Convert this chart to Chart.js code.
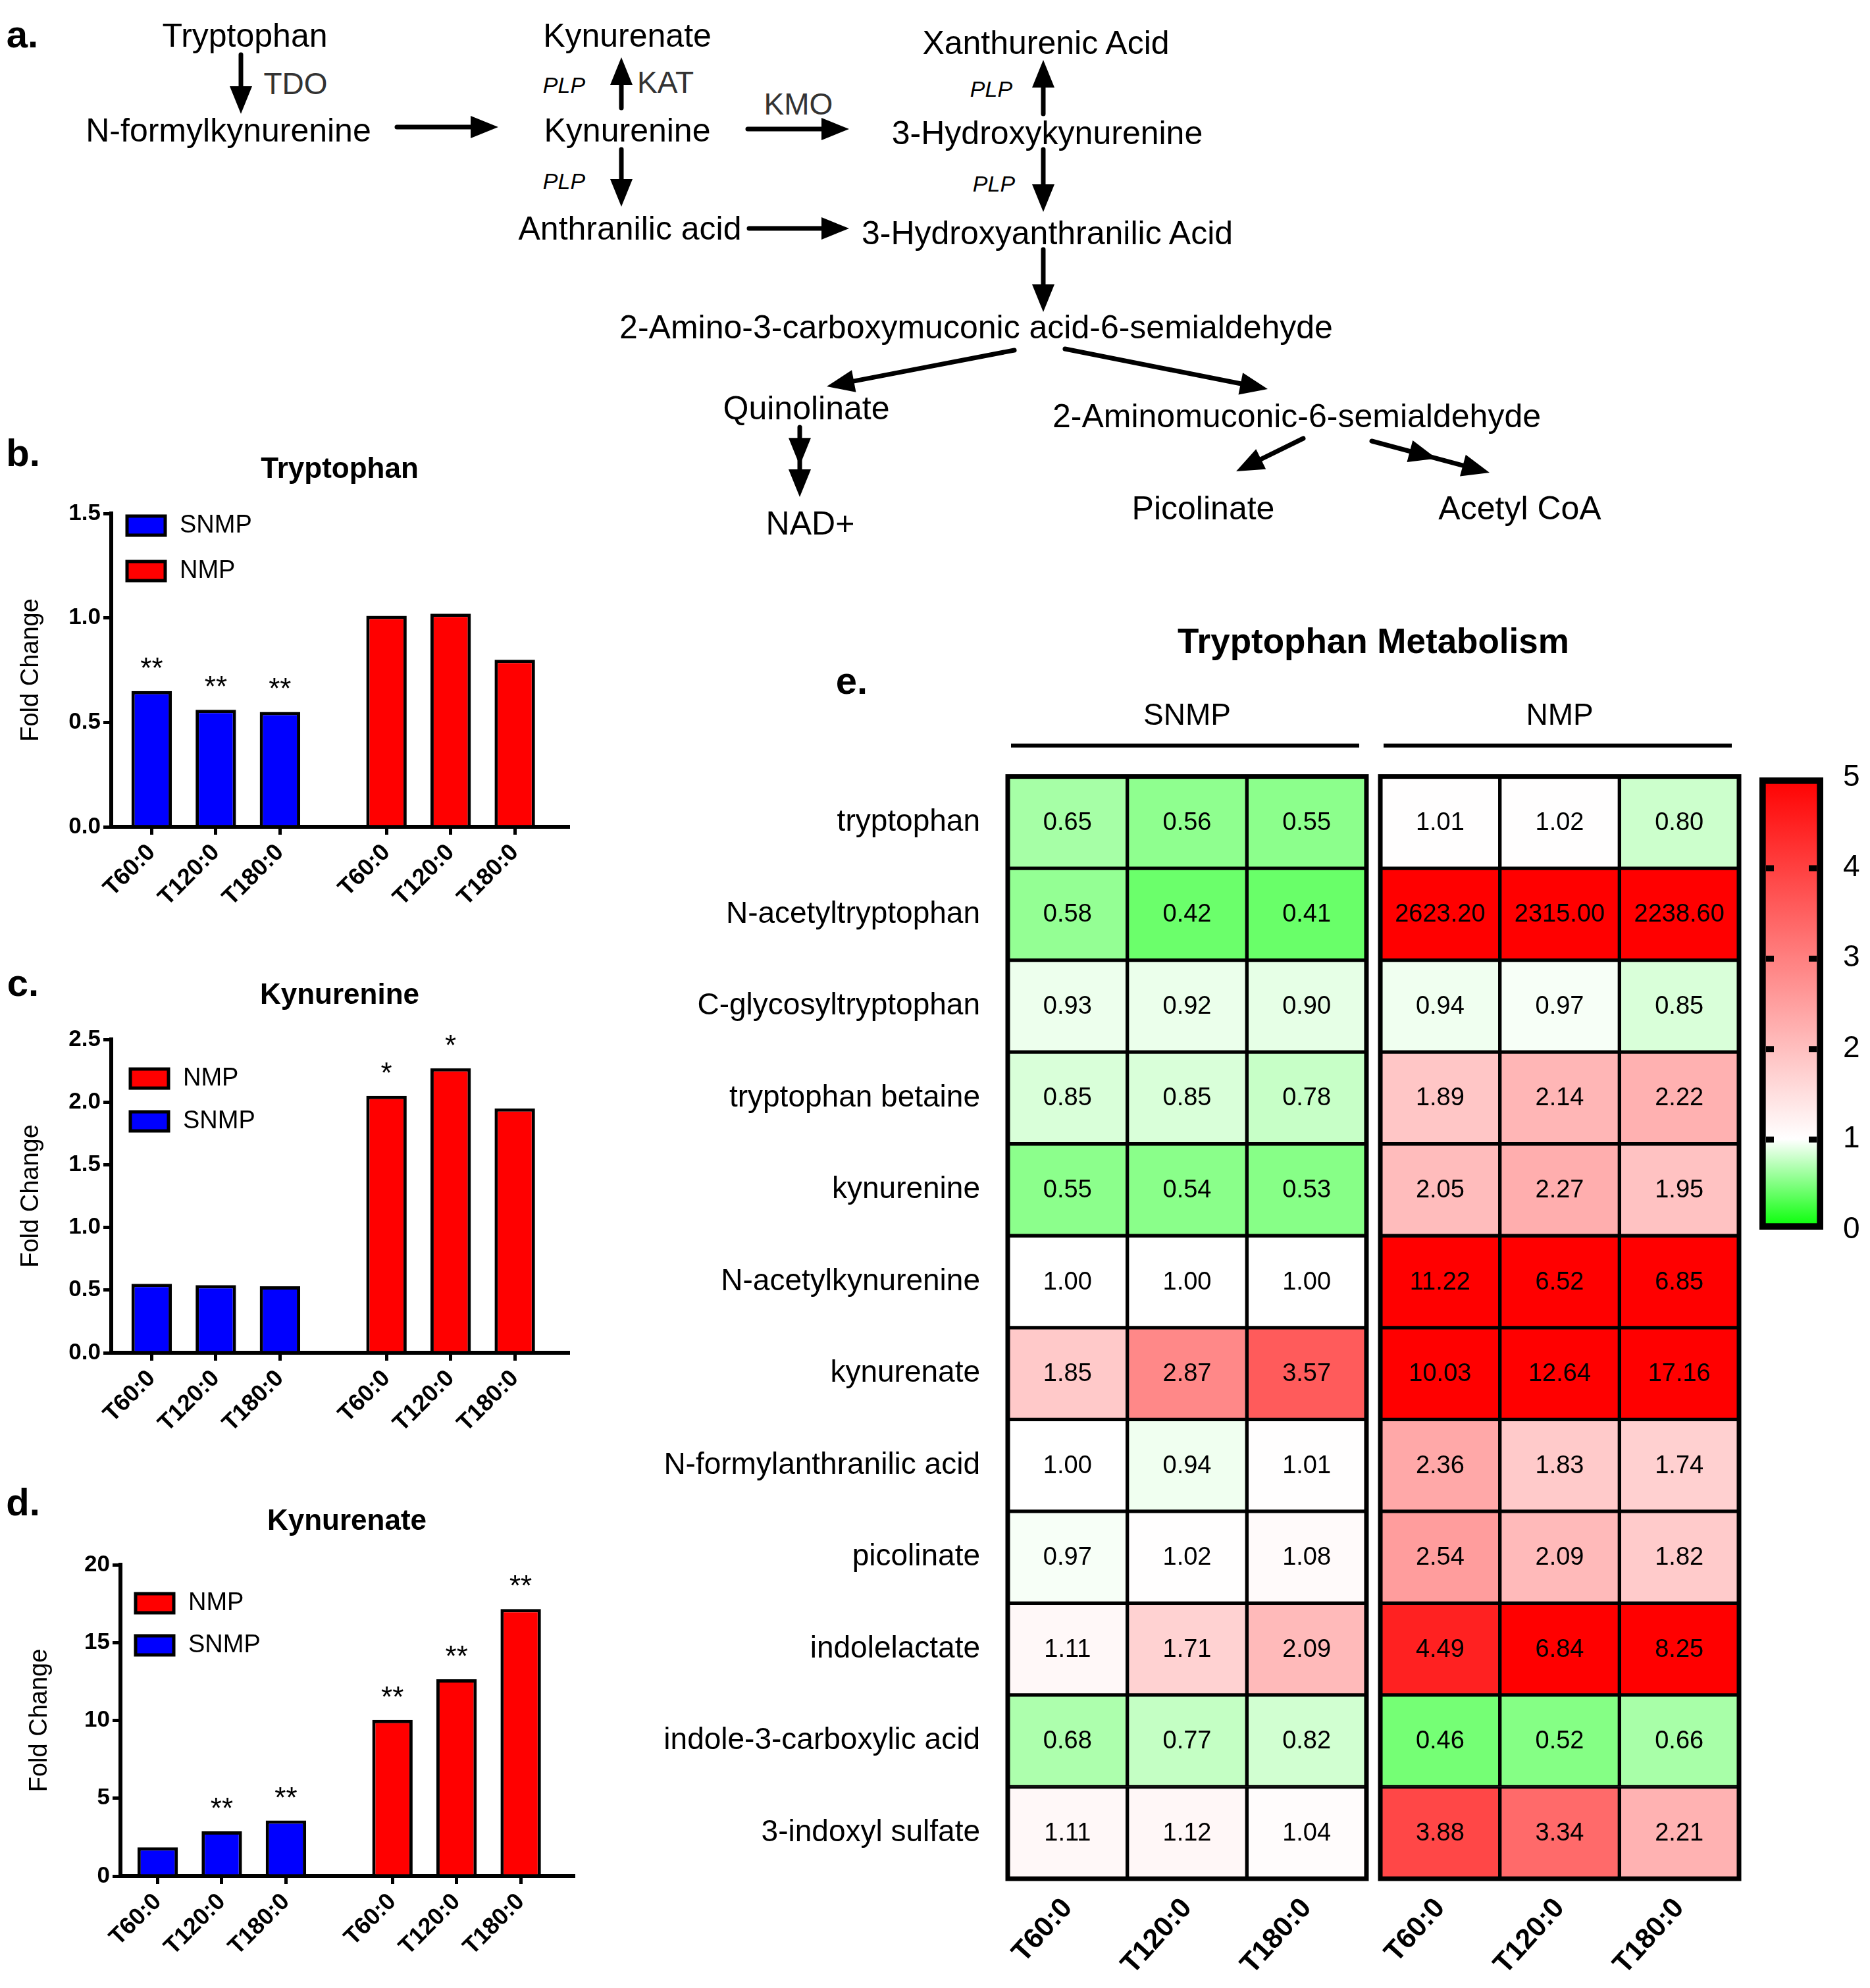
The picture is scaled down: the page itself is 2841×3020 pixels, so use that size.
<!DOCTYPE html>
<html><head><meta charset="utf-8">
<script src="https://cdn.jsdelivr.net/npm/chart.js@4.4.1/dist/chart.umd.min.js"></script>
<style>
html,body{margin:0;padding:0;background:#fff;}
body{width:2841px;height:3020px;position:relative;overflow:hidden;font-family:"Liberation Sans",Arial,sans-serif;}
.t{position:absolute;white-space:nowrap;transform:translate(-50%,-50%);color:#000;line-height:1;}
.cv{position:absolute;}
</style></head><body>
<svg id="arrows" width="2841" height="880" style="position:absolute;left:0;top:0"></svg>
<canvas id="cb" class="cv" width="900" height="709" style="left:0;top:677px"></canvas>
<canvas id="cc" class="cv" width="900" height="709" style="left:0;top:1476px"></canvas>
<canvas id="cd" class="cv" width="900" height="705" style="left:0;top:2275px"></canvas>
<canvas id="ch" class="cv" width="1700" height="2080" style="left:960px;top:940px"></canvas>
<canvas id="cbar" class="cv" width="181" height="760" style="left:2660px;top:1150px"></canvas>
<script>
// ---------------- DATA ----------------
const timeLabels = ['T60:0', 'T120:0', 'T180:0'];
const groups = ['SNMP', 'NMP'];

const trpSNMP = [0.65, 0.56, 0.55];
const trpNMP = [1.01, 1.02, 0.80];
const trpStarsSNMP = ['**', '**', '**'];
const trpStarsNMP = ['', '', ''];

const kynSNMP = [0.55, 0.54, 0.53];
const kynNMP = [2.05, 2.27, 1.95];
const kynStarsSNMP = ['', '', ''];
const kynStarsNMP = ['*', '*', ''];

const kyaSNMP = [1.85, 2.87, 3.57];
const kyaNMP = [10.03, 12.64, 17.16];
const kyaStarsSNMP = ['', '**', '**'];
const kyaStarsNMP = ['**', '**', '**'];

const metabolites = ['tryptophan', 'N-acetyltryptophan', 'C-glycosyltryptophan', 'tryptophan betaine',
  'kynurenine', 'N-acetylkynurenine', 'kynurenate', 'N-formylanthranilic acid', 'picolinate',
  'indolelactate', 'indole-3-carboxylic acid', '3-indoxyl sulfate'];
const hmSNMP_T60  = [0.65, 0.58, 0.93, 0.85, 0.55, 1.00, 1.85, 1.00, 0.97, 1.11, 0.68, 1.11];
const hmSNMP_T120 = [0.56, 0.42, 0.92, 0.85, 0.54, 1.00, 2.87, 0.94, 1.02, 1.71, 0.77, 1.12];
const hmSNMP_T180 = [0.55, 0.41, 0.90, 0.78, 0.53, 1.00, 3.57, 1.01, 1.08, 2.09, 0.82, 1.04];
const hmNMP_T60   = [1.01, 2623.20, 0.94, 1.89, 2.05, 11.22, 10.03, 2.36, 2.54, 4.49, 0.46, 3.88];
const hmNMP_T120  = [1.02, 2315.00, 0.97, 2.14, 2.27, 6.52, 12.64, 1.83, 2.09, 6.84, 0.52, 3.34];
const hmNMP_T180  = [0.80, 2238.60, 0.85, 2.22, 1.95, 6.85, 17.16, 1.74, 1.82, 8.25, 0.66, 2.21];
const colorbarTicks = [0, 1, 2, 3, 4, 5];

// ---------------- COMMON ----------------
const FAM = '"Liberation Sans", Arial, sans-serif';
Chart.defaults.font.family = FAM;
Chart.defaults.color = '#000';

function fcColor(v) {
  if (v <= 1) { const c = Math.round(255 * Math.max(0, v)); return `rgb(${c},255,${c})`; }
  const t = Math.min(1, (v - 1) / 4); const c = Math.round(255 * (1 - t));
  return `rgb(255,${c},${c})`;
}

// ---------------- PANEL A (pathway diagram) ----------------
const pathLabels = [
  ['Tryptophan', 372, 54], ['N-formylkynurenine', 347, 198], ['Kynurenate', 953, 54],
  ['Kynurenine', 953, 198], ['Anthranilic acid', 957, 347], ['Xanthurenic Acid', 1589, 65],
  ['3-Hydroxykynurenine', 1591, 202], ['3-Hydroxyanthranilic Acid', 1591, 354],
  ['2-Amino-3-carboxymuconic acid-6-semialdehyde', 1483, 497], ['Quinolinate', 1225, 620],
  ['2-Aminomuconic-6-semialdehyde', 1970, 632], ['NAD+', 1231, 795],
  ['Picolinate', 1828, 772], ['Acetyl CoA', 2309, 772]
];
const enzymeLabels = [['TDO', 449, 127], ['KAT', 1011, 125], ['KMO', 1213, 158]];
const plpLabels = [[857, 129], [857, 275], [1506, 135], [1510, 279]];
const panelLetters = [['a.', 34, 52], ['b.', 35, 688], ['c.', 35, 1493], ['d.', 35, 2282], ['e.', 1294, 1034]];
const arrowList = [
  [366, 83, 366, 173, 0], [603, 193, 757, 193, 0], [944, 164, 944, 87, 0], [944, 227, 944, 314, 0],
  [1136, 196, 1290, 196, 0], [1138, 347, 1290, 347, 0], [1585, 173, 1585, 91, 0], [1585, 227, 1585, 322, 0],
  [1585, 379, 1585, 474, 0], [1541, 532, 1256, 587, 0], [1618, 530, 1926, 591, 0],
  [1215, 649, 1215, 755, 1], [1980, 666, 1878, 716, 0], [2084, 670, 2263, 718, 1]
];
function addText(txt, x, y, css) {
  const d = document.createElement('div'); d.className = 't'; d.textContent = txt;
  d.style.left = x + 'px'; d.style.top = y + 'px'; d.style.cssText += css;
  document.body.appendChild(d);
}
pathLabels.forEach(([t, x, y]) => addText(t, x, y, 'font-size:50px;'));
enzymeLabels.forEach(([t, x, y]) => addText(t, x, y, 'font-size:46px;color:#333;'));
plpLabels.forEach(([x, y]) => addText('PLP', x, y, 'font-size:34px;font-style:italic;'));
panelLetters.forEach(([t, x, y]) => addText(t, x, y, 'font-size:58px;font-weight:bold;'));
(function () {
  const HL = 42, HW = 17; let s = '';
  const head = (tx, ty, ux, uy) => {
    const px = -uy, py = ux;
    return `<polygon points="${tx},${ty} ${tx - ux * HL + px * HW},${ty - uy * HL + py * HW} ${tx - ux * HL - px * HW},${ty - uy * HL - py * HW}" fill="#000"/>`;
  };
  arrowList.forEach(([x1, y1, x2, y2, mid]) => {
    const dx = x2 - x1, dy = y2 - y1, L = Math.hypot(dx, dy), ux = dx / L, uy = dy / L;
    s += `<line x1="${x1}" y1="${y1}" x2="${x2 - ux * HL * 0.7}" y2="${y2 - uy * HL * 0.7}" stroke="#000" stroke-width="7" stroke-linecap="round"/>`;
    s += head(x2, y2, ux, uy);
    if (mid) s += head(x1 + dx * 0.55, y1 + dy * 0.55, ux, uy);
  });
  document.getElementById('arrows').innerHTML = s;
})();

// ---------------- BAR CHARTS (b, c, d) ----------------
const GROUP_GAP = 0.66;
const xpos = (g, i) => g * (3 + GROUP_GAP) + i;

const insideLegend = {
  id: 'insideLegend',
  afterDraw(chart, args, o) {
    const ctx = chart.ctx, a = chart.chartArea;
    ctx.save();
    o.order.forEach((di, k) => {
      const ds = chart.data.datasets[di];
      const x = a.left + o.dx, y = a.top + o.dy + k * o.spacing;
      ctx.fillStyle = ds.backgroundColor; ctx.fillRect(x, y, 58, 29);
      ctx.lineWidth = 5; ctx.strokeStyle = '#000'; ctx.strokeRect(x, y, 58, 29);
      ctx.fillStyle = '#000'; ctx.font = '38px ' + FAM; ctx.textAlign = 'left'; ctx.textBaseline = 'middle';
      ctx.fillText(ds.label, x + 58 + 22, y + 15);
    });
    ctx.restore();
  }
};
const starPlugin = {
  id: 'stars',
  afterDatasetsDraw(chart) {
    const ctx = chart.ctx; ctx.save();
    ctx.fillStyle = '#000'; ctx.font = '44px ' + FAM; ctx.textAlign = 'center'; ctx.textBaseline = 'alphabetic';
    chart.data.datasets.forEach((ds, di) => {
      chart.getDatasetMeta(di).data.forEach((el, i) => {
        const s = ds.stars[i]; if (s) ctx.fillText(s, el.x, el.y - 20);
      });
    });
    ctx.restore();
  }
};

function barChart(id, title, snmp, nmp, starsS, starsN, yMax, yStep, dec, axisW, padRight, titlePadBottom, legend, xmin, xmax, yTitlePad) {
  const tickPos = [0, 1].flatMap(g => [0, 1, 2].map(i => xpos(g, i)));
  new Chart(document.getElementById(id), {
    type: 'bar',
    data: {
      datasets: [
        { label: groups[0], data: snmp.map((v, i) => ({ x: xpos(0, i), y: v })), stars: starsS,
          backgroundColor: '#0000ff', borderColor: '#000', borderWidth: 5 },
        { label: groups[1], data: nmp.map((v, i) => ({ x: xpos(1, i), y: v })), stars: starsN,
          backgroundColor: '#ff0000', borderColor: '#000', borderWidth: 5 }
      ]
    },
    options: {
      responsive: false, animation: false, devicePixelRatio: 1,
      grouped: false, barPercentage: 0.63, categoryPercentage: 1,
      layout: { padding: { left: 0, right: padRight, top: 0, bottom: 0 } },
      plugins: {
        legend: { display: false }, tooltip: { enabled: false },
        title: { display: true, text: title, fullSize: false, color: '#000',
          font: { size: 44, weight: 'bold' }, padding: { top: 10, bottom: titlePadBottom } },
        insideLegend: legend
      },
      scales: {
        x: {
          type: 'linear', min: xmin, max: xmax, offset: false,
          afterBuildTicks: s => { s.ticks = tickPos.map(v => ({ value: v })); },
          afterFit: s => { s.height = 130; },
          grid: { display: true, drawOnChartArea: false, drawTicks: true, tickLength: 12, lineWidth: 5, color: '#000', offset: false },
          border: { display: true, color: '#000', width: 6 },
          ticks: { autoSkip: false, minRotation: 45, maxRotation: 45, padding: 6, color: '#000',
            font: { size: 36, weight: 'bold' }, callback: (v, i) => timeLabels[i % 3] }
        },
        y: {
          min: 0, max: yMax,
          afterFit: s => { s.width = axisW; },
          grid: { display: true, drawOnChartArea: false, drawTicks: true, tickLength: 12, lineWidth: 5, color: '#000' },
          border: { display: true, color: '#000', width: 6 },
          ticks: { stepSize: yStep, padding: 4, color: '#000', font: { size: 35, weight: 'bold' },
            callback: v => v.toFixed(dec) },
          title: { display: true, text: 'Fold Change', color: '#000', font: { size: 38 }, padding: { top: yTitlePad, bottom: 0 } }
        }
      }
    },
    plugins: [insideLegend, starPlugin]
  });
}
barChart('cb', 'Tryptophan', trpSNMP, trpNMP, trpStarsSNMP, trpStarsNMP, 1.5, 0.5, 1, 169, 37, 40.2,
  { dx: 24, dy: 4, spacing: 69, order: [0, 1] }, -0.63, 6.49, 25);
barChart('cc', 'Kynurenine', kynSNMP, kynNMP, kynStarsSNMP, kynStarsNMP, 2.5, 0.5, 1, 169, 37, 40.2,
  { dx: 29, dy: 45, spacing: 65, order: [1, 0] }, -0.63, 6.49, 25);
barChart('cd', 'Kynurenate', kyaSNMP, kyaNMP, kyaStarsSNMP, kyaStarsNMP, 20, 5, 0, 183, 29, 39.2,
  { dx: 23, dy: 44, spacing: 64, order: [1, 0] }, -0.58, 6.48, 38);

// ---------------- HEATMAP (e) ----------------
const hmCols = [hmSNMP_T60, hmSNMP_T120, hmSNMP_T180, hmNMP_T60, hmNMP_T120, hmNMP_T180];
const HM_GAP = 0.116;
const colStart = c => c + (c >= 3 ? HM_GAP : 0);

const heatDecor = {
  id: 'heatDecor',
  afterDatasetsDraw(chart) {
    const ctx = chart.ctx, a = chart.chartArea, xs = chart.scales.x;
    ctx.save();
    ctx.fillStyle = '#000'; ctx.font = '38px ' + FAM; ctx.textAlign = 'center'; ctx.textBaseline = 'middle';
    chart.data.datasets.forEach((ds, di) => {
      chart.getDatasetMeta(di).data.forEach((el, i) => {
        ctx.fillText(ds.values[i].toFixed(2), (el.x + el.base) / 2, el.y + 1);
      });
    });
    [0, 1].forEach(g => {
      const l = xs.getPixelForValue(colStart(3 * g)), r = xs.getPixelForValue(colStart(3 * g + 2) + 1);
      ctx.strokeStyle = '#000'; ctx.lineWidth = 7;
      ctx.strokeRect(l, a.top, r - l, a.bottom - a.top);
      ctx.fillStyle = '#000'; ctx.font = '46px ' + FAM; ctx.textAlign = 'center'; ctx.textBaseline = 'middle';
      ctx.fillText(groups[g], (l + r) / 2, a.top - 91);
      ctx.fillRect(l + 5, a.top - 50, r - l - 16, 6);
    });
    ctx.restore();
  }
};

new Chart(document.getElementById('ch'), {
  type: 'bar',
  data: {
    labels: metabolites,
    datasets: hmCols.map((col, c) => ({
      label: groups[Math.floor(c / 3)] + ' ' + timeLabels[c % 3],
      data: col.map(() => [colStart(c), colStart(c) + 1]),
      values: col,
      backgroundColor: col.map(v => fcColor(v)),
      borderColor: '#000', borderWidth: 3, borderSkipped: false
    }))
  },
  options: {
    indexAxis: 'y', responsive: false, animation: false, devicePixelRatio: 1,
    grouped: false, barPercentage: 1, categoryPercentage: 1,
    layout: { padding: { left: 0, right: 18, top: 0, bottom: 0 } },
    plugins: {
      legend: { display: false }, tooltip: { enabled: false },
      title: { display: true, text: 'Tryptophan Metabolism', fullSize: false, color: '#000',
        font: { size: 53, weight: 'bold' }, padding: { top: 6, bottom: 170 } }
    },
    scales: {
      x: {
        type: 'linear', min: 0, max: 6 + HM_GAP, offset: false, position: 'bottom',
        afterBuildTicks: s => { s.ticks = [0, 1, 2, 3, 4, 5].map(c => ({ value: colStart(c) + 0.5 })); },
        afterFit: s => { s.height = 166; },
        grid: { display: false, drawTicks: false }, border: { display: false },
        ticks: { autoSkip: false, minRotation: 48, maxRotation: 48, padding: 20, color: '#000',
          font: { size: 43, weight: 'bold' }, callback: (v, i) => timeLabels[i % 3] }
      },
      y: {
        type: 'category', offset: true,
        afterFit: s => { s.width = 571; },
        grid: { display: false, drawTicks: false }, border: { display: false },
        ticks: { autoSkip: false, padding: 42, color: '#000', font: { size: 46 } }
      }
    }
  },
  plugins: [heatDecor]
});

// ---------------- COLOR BAR ----------------
const cbTicks = {
  id: 'cbTicks',
  afterDatasetsDraw(chart) {
    const ctx = chart.ctx, a = chart.chartArea, ys = chart.scales.y;
    ctx.save(); ctx.fillStyle = '#000';
    colorbarTicks.slice(1, -1).forEach(v => {
      const y = ys.getPixelForValue(v);
      ctx.fillRect(a.left + 10, y - 4, 12, 9);
      ctx.fillRect(a.right - 22, y - 4, 12, 9);
    });
    ctx.restore();
  }
};
new Chart(document.getElementById('cbar'), {
  type: 'bar',
  data: {
    labels: [''],
    datasets: [{
      data: [[colorbarTicks[0], colorbarTicks[colorbarTicks.length - 1]]],
      backgroundColor: (ctx) => {
        const chart = ctx.chart; if (!chart.chartArea) return '#fff';
        const ys = chart.scales.y;
        const y0 = ys.getPixelForValue(0), y1 = ys.getPixelForValue(5);
        const g = chart.ctx.createLinearGradient(0, y0, 0, y1);
        for (let v = 0; v <= 5.0001; v += 0.125) g.addColorStop(Math.min(1, v / 5), fcColor(v));
        return g;
      },
      borderColor: '#000', borderWidth: 10, borderSkipped: false
    }]
  },
  options: {
    responsive: false, animation: false, devicePixelRatio: 1,
    barPercentage: 1, categoryPercentage: 1,
    layout: { padding: { left: 13, right: 0, top: 31, bottom: 42 } },
    plugins: { legend: { display: false }, tooltip: { enabled: false } },
    scales: {
      x: { display: false },
      y: {
        position: 'right', min: 0, max: 5,
        afterBuildTicks: s => { s.ticks = colorbarTicks.map(v => ({ value: v })); },
        afterFit: s => { s.width = 71; s.paddingTop = 0; s.paddingBottom = 0; },
        grid: { display: false, drawTicks: false }, border: { display: false },
        ticks: { padding: 30, color: '#000', font: { size: 46 } }
      }
    }
  },
  plugins: [cbTicks]
});
</script>
</body></html>
